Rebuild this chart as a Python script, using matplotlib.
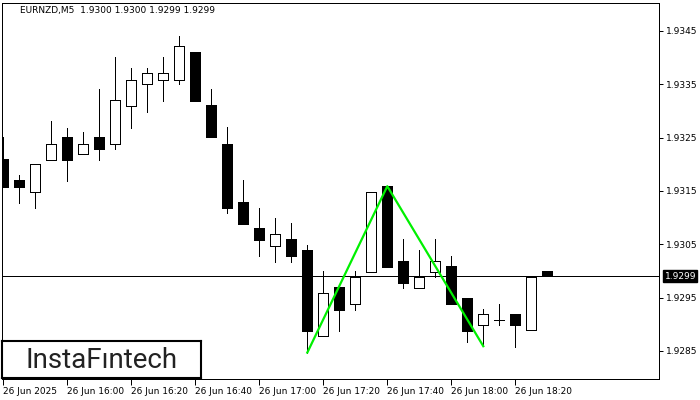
#!/usr/bin/env python3
"""EURNZD M5 candlestick chart with double-top pattern."""

import matplotlib
matplotlib.use('Agg')
import matplotlib.pyplot as plt
from matplotlib.patches import Rectangle

# candle data (5 min bars starting 26 Jun 15:40)
opens = [1.93210, 1.93170, 1.93149, 1.93209, 1.93251, 1.93219, 1.93251, 1.93239,
         1.93310, 1.93350, 1.93359, 1.93359, 1.93410, 1.93311, 1.93239, 1.93129,
         1.93081, 1.93047, 1.93060, 1.93039, 1.92878, 1.92970, 1.92939, 1.92999,
         1.93159, 1.93019, 1.92969, 1.92999, 1.93009, 1.92949, 1.92898, 1.92908,
         1.92919, 1.92889, 1.93000]
highs = [1.93251, 1.93180, 1.93200, 1.93281, 1.93269, 1.93260, 1.93341, 1.93401,
         1.93381, 1.93381, 1.93401, 1.93441, 1.93410, 1.93341, 1.93270, 1.93171,
         1.93119, 1.93099, 1.93090, 1.93049, 1.93000, 1.92970, 1.93000, 1.93149,
         1.93159, 1.93060, 1.93039, 1.93060, 1.93029, 1.92949, 1.92928, 1.92939,
         1.92919, 1.92988, 1.93000]
lows = [1.93158, 1.93128, 1.93119, 1.93209, 1.93169, 1.93219, 1.93208, 1.93229,
        1.93269, 1.93299, 1.93319, 1.93350, 1.93319, 1.93251, 1.93109, 1.93089,
        1.93029, 1.93017, 1.93017, 1.92847, 1.92878, 1.92888, 1.92927, 1.92999,
        1.93008, 1.92969, 1.92969, 1.92988, 1.92939, 1.92867, 1.92859, 1.92898,
        1.92858, 1.92889, 1.92990]
closes = [1.93158, 1.93158, 1.93200, 1.93239, 1.93209, 1.93239, 1.93229, 1.93320,
          1.93359, 1.93371, 1.93371, 1.93421, 1.93319, 1.93251, 1.93119, 1.93089,
          1.93059, 1.93069, 1.93029, 1.92888, 1.92958, 1.92927, 1.92988, 1.93149,
          1.93008, 1.92978, 1.92988, 1.93019, 1.92939, 1.92888, 1.92919, 1.92908,
          1.92898, 1.92988, 1.92990]

time_ticks = [0, 4, 8, 12, 16, 20, 24, 28, 32]
time_labels = ['26 Jun 2025', '26 Jun 16:00', '26 Jun 16:20', '26 Jun 16:40',
               '26 Jun 17:00', '26 Jun 17:20', '26 Jun 17:40', '26 Jun 18:00',
               '26 Jun 18:20']
price_ticks = [1.9285, 1.9295, 1.9305, 1.9315, 1.9325, 1.9335, 1.9345]
current_price = 1.9299

# double top pattern
pattern_x = [19, 24, 30]
pattern_y = [1.92847, 1.93159, 1.92859]

PX = 0.72  # one pixel in points at 100 dpi
W, H = 700, 400
fig = plt.figure(figsize=(7, 4), dpi=100, facecolor='white')
ax = fig.add_axes([2 / W, 21 / H, 657 / W, 376 / H])
ax.set_xlim(-0.08, 40.98)
ax.set_ylim(1.927975, 1.935025)

body_w = 0.62
for i, (o, h, l, c) in enumerate(zip(opens, highs, lows, closes)):
    ax.vlines(i, l, h, color='black', linewidth=PX, antialiased=False, zorder=2)
    if o == c:
        ax.hlines(o, i - body_w / 2, i + body_w / 2, color='black', linewidth=PX,
                  antialiased=False, zorder=3)
        continue
    face = 'white' if c > o else 'black'
    ax.add_patch(Rectangle((i - body_w / 2, min(o, c)), body_w, abs(c - o),
                           facecolor=face, edgecolor='black', linewidth=PX,
                           antialiased=False, zorder=3))

ax.plot(pattern_x, pattern_y, color='#00f000', linewidth=1.6, zorder=4)

ax.axhline(current_price, color='black', linewidth=PX, antialiased=False, zorder=1)

for s in ax.spines.values():
    s.set_linewidth(PX)
    s.set_color('black')

ax.yaxis.tick_right()
ax.set_yticks(price_ticks)
ax.set_yticklabels([f'{p:.4f}' for p in price_ticks])
ax.tick_params(axis='y', direction='out', length=3, width=PX, pad=2,
               labelsize=6.5)

ax.set_xticks(time_ticks)
ax.set_xticklabels(time_labels, ha='left')
ax.tick_params(axis='x', direction='out', length=4, width=PX, pad=2,
               labelsize=6.5)

# current price tag on the axis
ax.annotate(f'{current_price:.4f}', xy=(1, current_price), xycoords=('axes fraction', 'data'),
            xytext=(4, 0), textcoords='offset points', va='center', ha='left',
            fontsize=6.5, color='white',
            bbox=dict(boxstyle='square,pad=0.15', facecolor='black', edgecolor='black'))

ax.text(18 / 657, 1 - 8 / 376, 'EURNZD,M5  1.9300 1.9300 1.9299 1.9299',
        transform=ax.transAxes, fontsize=6.5, va='center', ha='left')

# logo box
logo = fig.add_axes([2 / W, 22 / H, 199 / W, 37 / H])
logo.set_xticks([])
logo.set_yticks([])
for s in logo.spines.values():
    s.set_linewidth(1.5)
logo.text(0.5, 0.47, 'InstaFıntech', fontsize=20, family='Roboto',
          ha='center', va='center', color='#222222')

plt.savefig('out.png', dpi=100)
plt.close()
